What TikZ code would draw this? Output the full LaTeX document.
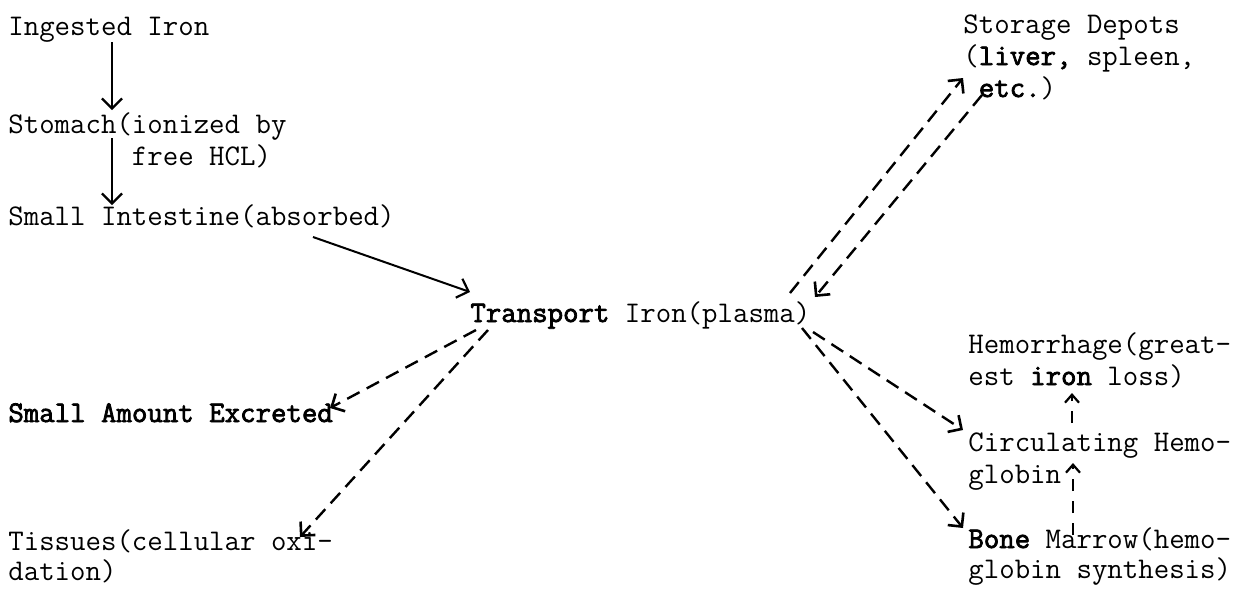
\documentclass[tikz,border=0pt]{standalone}
\usepackage{fontspec}
\setmonofont{Latin Modern Mono}[AutoFakeBold=2.5]
\usetikzlibrary{arrows.meta,calc}
\begin{document}
\begin{tikzpicture}[x=0.5pt,y=-0.5pt,
  lbl/.style={anchor=base west,inner sep=0pt,align=left,
    font=\fontsize{15}{16}\selectfont\ttfamily},
  lbltight/.style={lbl,font=\fontsize{15}{15}\selectfont\ttfamily},
  solidarrow/.style={line width=1pt,-{Straight Barb[length=5pt,width=10pt,line width=1.1pt]}},
  dasharrow/.style={line width=1.2pt,dash pattern=on 7pt off 4pt,
    -{Straight Barb[length=5pt,width=10pt,line width=1.3pt]}},
  shortdash/.style={line width=1pt,dash pattern=on 6pt off 5pt,
    -{Straight Barb[length=4pt,width=7pt,line width=1.1pt]}}]
\useasboundingbox[fill=white] (0,0) rectangle (1254,591);

\node[lbl] (ing) at (8,35) {Ingested Iron};
\node[lbl] (sto) at (8,165) {Stomach(ionized by\\\phantom{Stomach(}free HCL)};
\node[lbl] (si) at (8,225) {Small Intestine(absorbed)};
\node[lbl] (tr) at (470,322) {\textbf{Transport} Iron(plasma)};
\node[lbl] (sd) at (963,97) {Storage Depots\\(\textbf{liver,} spleen,\\\phantom{(}\textbf{etc.})};
\node[lbl] (sae) at (8,422) {\textbf{Small Amount Excreted}};
\node[lbltight] (tis) at (8,580) {Tissues(cellular oxi-\\dation)};
\node[lbl] (hem) at (968,385) {Hemorrhage(great-\\est \textbf{iron} loss)};
\node[lbl] (cir) at (968,483) {Circulating Hemo-\\globin};
\node[lbltight] (bm) at (968,578) {\textbf{Bone} Marrow(hemo-\\globin synthesis)};

\draw[solidarrow] ($(ing.base west)+(104,7)$) -- ($(sto.base west)+(104,-55)$);
\draw[solidarrow] ($(sto.base west)+(104,-27)$) -- ($(si.base west)+(104,-20)$);
\draw[solidarrow] ($(si.base west)+(305,12)$) -- ($(tr.base west)+(0,-30)$);
\draw[dasharrow] ($(tr.base west)+(320,-29)$) -- ($(sd.base west)+(0,-19)$);
\draw[dasharrow] ($(sd.base west)+(19,-2)$) -- ($(tr.base west)+(345,-25)$);
\draw[dasharrow] ($(tr.base west)+(6,8)$) -- ($(sae.base west)+(322,-14)$);
\draw[dasharrow] ($(tr.base west)+(18,8)$) -- ($(tis.base west)+(292,-43)$);
\draw[dasharrow] ($(tr.base west)+(343,10)$) -- ($(cir.base west)+(-5,-53)$);
\draw[dasharrow] ($(tr.base west)+(332,6)$) -- ($(bm.base west)+(-5,-50)$);
\draw[shortdash] ($(bm.base west)+(105,-43)$) -- ($(cir.base west)+(105,-20)$);
\draw[shortdash] ($(cir.base west)+(104,-60)$) -- ($(hem.base west)+(104,8)$);
\end{tikzpicture}
\end{document}
